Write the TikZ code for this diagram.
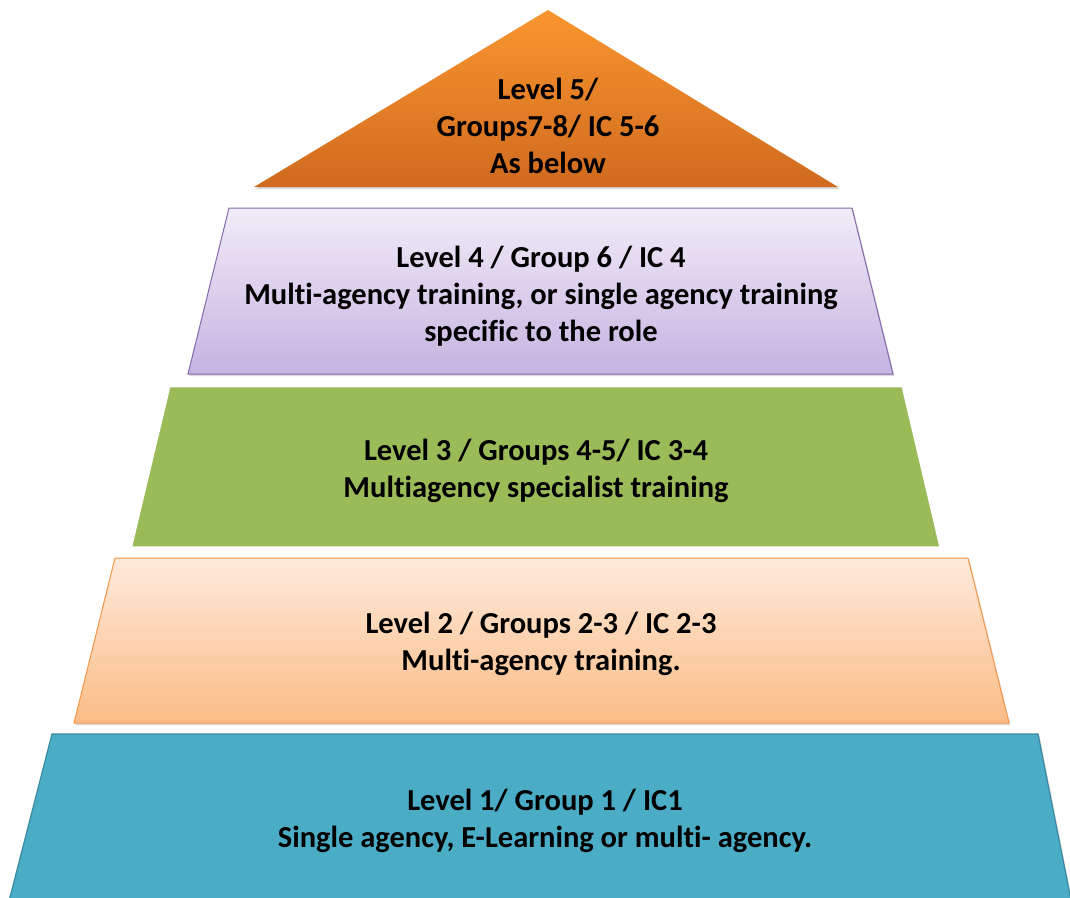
\documentclass[tikz,border=0pt]{standalone}
\usepackage{fontspec}
\setmainfont[Ligatures={NoCommon}]{Carlito}
\usetikzlibrary{shadows}
\definecolor{orTop}{HTML}{F9962F}
\definecolor{orBot}{HTML}{D06A1F}
\definecolor{lavTop}{HTML}{F1ECF8}
\definecolor{lavBot}{HTML}{C6B3E1}
\definecolor{lavLine}{HTML}{8468A8}
\definecolor{grn}{HTML}{9BBB59}
\definecolor{peachTop}{HTML}{FEEADB}
\definecolor{peachBot}{HTML}{FBBC86}
\definecolor{peachLine}{HTML}{F79646}
\definecolor{teal}{HTML}{4BACC6}
\definecolor{tealLine}{HTML}{3A8AA0}
\begin{document}
\begin{tikzpicture}[x=1pt,y=-1pt,
  shad/.style={drop shadow={shadow xshift=1.5pt,shadow yshift=-2pt,opacity=0.25,fill=black!60}},
  lbl/.style={align=center,font=\bfseries\fontsize{30.5}{37}\selectfont,text=black,inner sep=0pt}]
\useasboundingbox (0,0) rectangle (1070,897);
\fill[white] (0,0) rectangle (1070,897);
% Level 5 triangle
\path[shad,top color=orTop,bottom color=orBot] (548,10) -- (838,187) -- (254,187) -- cycle;
% Level 4
\path[shad,top color=lavTop,bottom color=lavBot,draw=lavLine,line width=1pt,line join=miter]
  (229,208) -- (852,208) -- (893,374) -- (188,374) -- cycle;
% Level 3
\path[shad,fill=grn,draw=white,line width=4.5pt,line join=round]
  (168.5,385) -- (903.5,385) -- (942,548.5) -- (129.5,548.5) -- cycle;
% Level 2
\path[shad,top color=peachTop,bottom color=peachBot,draw=peachLine,line width=1pt]
  (115,558) -- (968,558) -- (1009,723) -- (74,723) -- cycle;
% Level 1
\path[shad,fill=teal,draw=tealLine,line width=1.2pt]
  (52,734) -- (1038,734) -- (1072,905) -- (8,905) -- cycle;
% Labels
\node[lbl] (t5) at (548,126) {Level 5/\\Groups7-8/ IC 5-6\\As below};
\node[lbl] (t4) at (541,296) {Level 4 / Group 6 / IC 4\\Multi-agency training, or single agency training\\specific to the role};
\node[lbl] (t3) at (536,471) {Level 3 / Groups 4-5/ IC 3-4\\Multiagency specialist training};
\node[lbl] (t2) at (541,644) {Level 2 / Groups 2-3 / IC 2-3\\Multi-agency training.};
\node[lbl] (t1) at (545,821) {Level 1/ Group 1 / IC1\\Single agency, E-Learning or multi- agency.};
\end{tikzpicture}
\end{document}
